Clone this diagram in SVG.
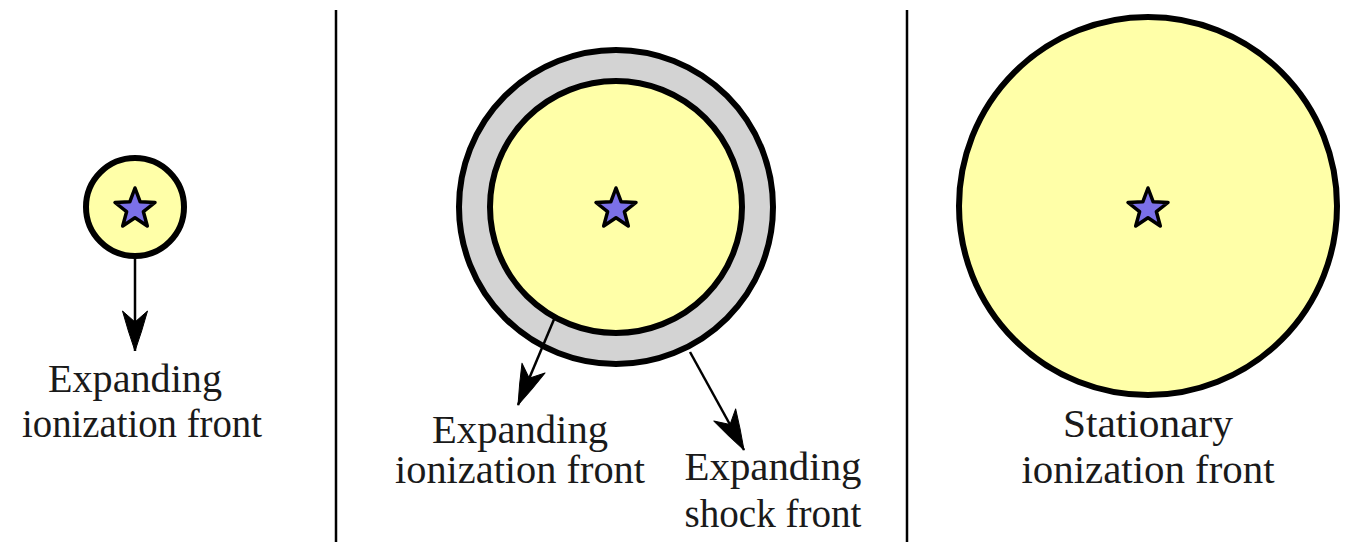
<svg xmlns="http://www.w3.org/2000/svg" width="1346" height="542" viewBox="0 0 1346 542">
<style>
.lbl{font-family:"Liberation Serif","DejaVu Serif",serif;font-size:39px;fill:#1a1a1a;text-anchor:middle}
.ion{fill:#ffffa8;stroke:#000;stroke-width:6}
.shock{fill:#d3d3d3;stroke:#000;stroke-width:6}
.star{fill:#7b70e8;stroke:#000;stroke-width:3.5;stroke-linejoin:round}
.sep{stroke:#000;stroke-width:2.5}
.arr{stroke:#000;stroke-width:2.5;fill:none;marker-end:url(#stealth)}
</style>
<defs>
<marker id="stealth" viewBox="-42 -14 44 28" refX="0" refY="0" markerWidth="44" markerHeight="28" markerUnits="userSpaceOnUse" orient="auto">
<path d="M0,0 Q-20,-7 -40,-12.5 L-29,0 L-40,12.5 Q-20,7 0,0 Z" fill="#000" stroke="#000" stroke-width="1" stroke-linejoin="round"/>
</marker>
<polygon id="starshape" points="0,-21 5.2,-7.2 20,-6.5 8.4,2.7 12.3,17 0,8.8 -12.3,17 -8.4,2.7 -20,-6.5 -5.2,-7.2"/>
</defs>
<rect width="1346" height="542" fill="#fff"/>
<g id="separators">
<line class="sep" x1="336" y1="10" x2="336" y2="542"/>
<line class="sep" x1="907" y1="10" x2="907" y2="542"/>
</g>
<g id="panel1">
<circle class="ion" cx="135" cy="207" r="49"/>
<use href="#starshape" class="star" x="135" y="209"/>
</g>
<g id="panel2">
<circle class="shock" cx="616" cy="207" r="157"/>
<circle class="ion" cx="616" cy="207" r="126"/>
<use href="#starshape" class="star" x="616" y="209"/>
</g>
<g id="panel3">
<circle class="ion" cx="1148" cy="206" r="189"/>
<use href="#starshape" class="star" x="1148" y="209"/>
</g>
<g id="connectors">
<line class="arr" x1="135" y1="257" x2="135" y2="351"/>
<line class="arr" x1="555" y1="317" x2="518" y2="405"/>
<line class="arr" x1="690" y1="352" x2="744" y2="450"/>
</g>
<g id="labels">
<text class="lbl" x="135" y="392" textLength="174" lengthAdjust="spacingAndGlyphs">Expanding</text>
<text class="lbl" x="142" y="437" textLength="240" lengthAdjust="spacingAndGlyphs">ionization front</text>
<text class="lbl" x="520" y="443" textLength="176" lengthAdjust="spacingAndGlyphs">Expanding</text>
<text class="lbl" x="520" y="483" textLength="250" lengthAdjust="spacingAndGlyphs">ionization front</text>
<text class="lbl" x="773" y="480" textLength="177" lengthAdjust="spacingAndGlyphs">Expanding</text>
<text class="lbl" x="773" y="527" textLength="177" lengthAdjust="spacingAndGlyphs">shock front</text>
<text class="lbl" x="1148" y="437" textLength="170" lengthAdjust="spacingAndGlyphs">Stationary</text>
<text class="lbl" x="1148" y="483" textLength="253" lengthAdjust="spacingAndGlyphs">ionization front</text>
</g>
</svg>
